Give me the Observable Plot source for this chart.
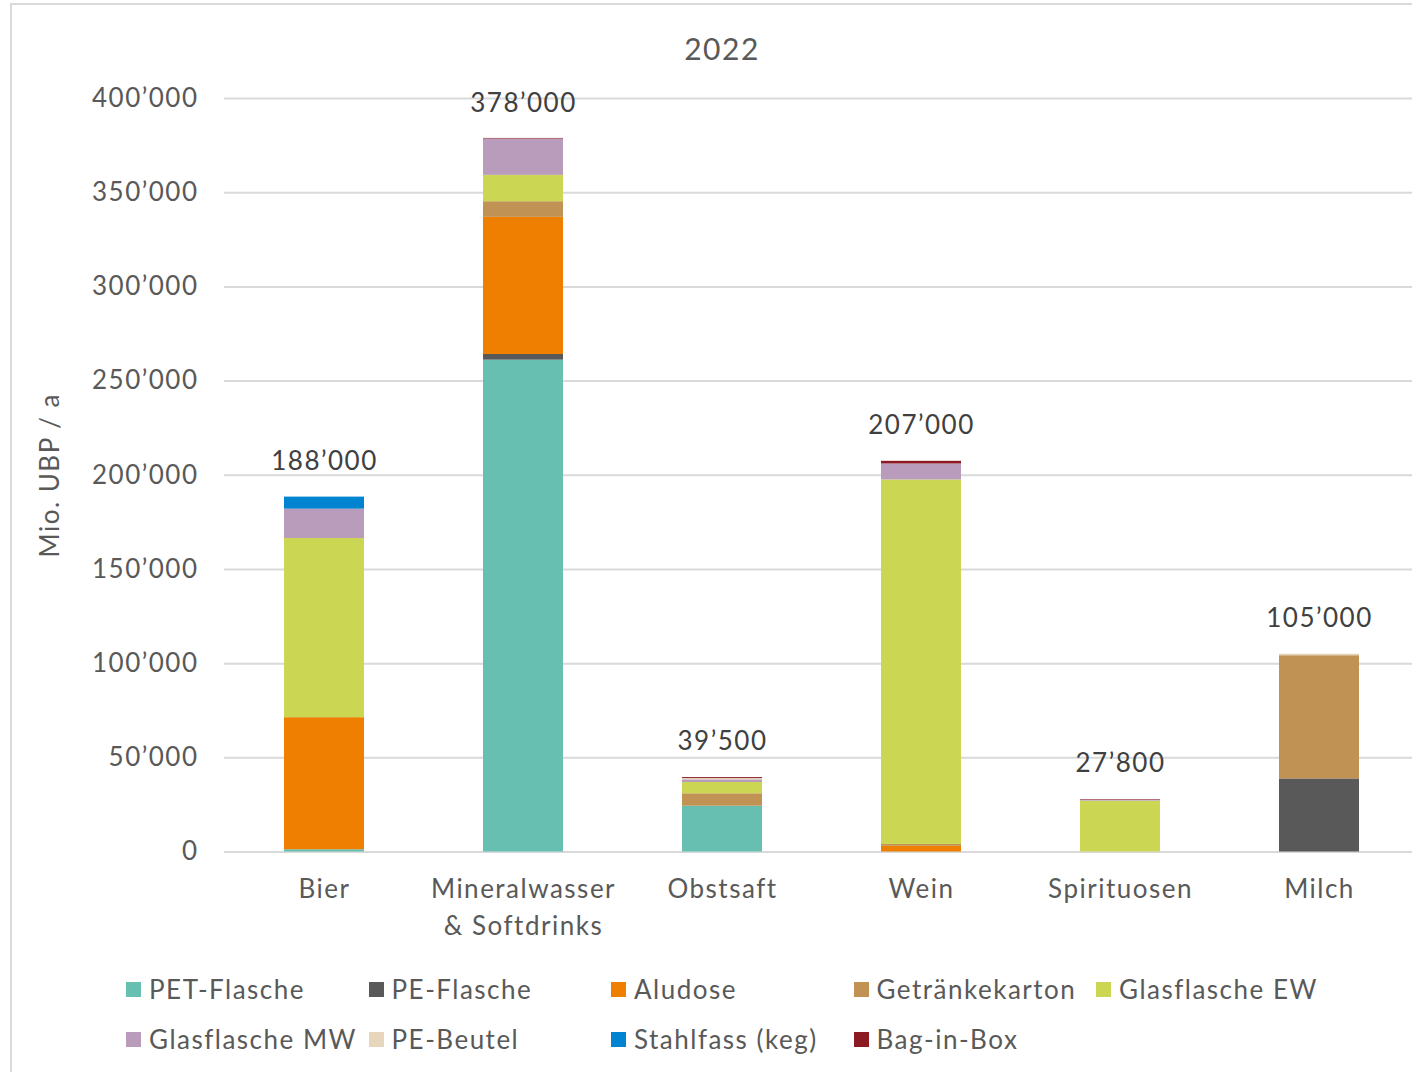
<!DOCTYPE html>
<html>
<head>
<meta charset="utf-8">
<script src="https://cdn.jsdelivr.net/npm/d3@7"></script>
<script src="https://cdn.jsdelivr.net/npm/@observablehq/plot@0.6"></script>
<style>
  html, body { margin: 0; padding: 0; background: #fff; overflow: hidden; }
  #wrap { position: relative; width: 1412px; height: 1072px; overflow: hidden; font-family: Lato, sans-serif; color: #595959; letter-spacing: 1.5px; }
  #frame { position: absolute; left: 10px; top: 3px; width: 1500px; height: 1200px; border: 2px solid #d9d9d9; box-sizing: border-box; }
  #title { position: relative; height: 80px; box-sizing: border-box; padding-left: 32px; padding-top: 33px; width: 1412px; text-align: center; font-size: 30px; line-height: 30px; }
  #chart { position: relative; }
  #legend { position: relative; padding-left: 126px; padding-top: 2px; display: flex; flex-wrap: wrap; width: 1300px; }
  .item { width: 242.5px; height: 50px; line-height: 50px; font-size: 26px; white-space: nowrap; display: flex; align-items: center; }
  .sw { width: 15px; height: 15px; margin-right: 8px; flex: none; }
</style>
</head>
<body>
<div id="wrap">
  <div id="frame"></div>
  <div id="title">2022</div>
  <div id="chart"></div>
  <div id="legend"></div>
</div>
<script>
const categories = ["Bier", "Mineralwasser\n& Softdrinks", "Obstsaft", "Wein", "Spirituosen", "Milch"];
const series = ["PET-Flasche", "PE-Flasche", "Aludose", "Getränkekarton", "Glasflasche EW", "Glasflasche MW", "PE-Beutel", "Stahlfass (keg)", "Bag-in-Box"];
const colors = ["#66bfb1", "#595959", "#ee7f00", "#c09355", "#cbd753", "#b99cbc", "#e8d6bc", "#0084d1", "#8b1a22"];
// values in Mio. UBP / a, one array per series, in category order
const petFlasche     = [1200, 261100, 24300, 0, 0, 0];
const peFlasche      = [0, 3000, 0, 0, 0, 38800];
const aludose        = [70100, 72800, 0, 3000, 0, 0];
const getraenkekarton = [0, 8300, 6600, 1000, 0, 65400];
const glasEW         = [95100, 14000, 6000, 193500, 27000, 0];
const glasMW         = [15600, 19300, 1400, 8500, 500, 0];
const peBeutel       = [0, 0, 700, 0, 0, 800];
const stahlfass      = [6400, 0, 0, 0, 0, 0];
const bagInBox       = [0, 300, 500, 1400, 300, 0];
const totals         = [188000, 378000, 39500, 207000, 27800, 105000];
const yTicks         = [0, 50000, 100000, 150000, 200000, 250000, 300000, 350000, 400000];

const seriesValues = [petFlasche, peFlasche, aludose, getraenkekarton, glasEW, glasMW, peBeutel, stahlfass, bagInBox];
const data = [];
series.forEach((s, i) => categories.forEach((c, j) => data.push({series: s, category: c, value: seriesValues[i][j]})));
const totalData = categories.map((c, j) => ({category: c, total: totals[j]}));

const fmt = d3.formatLocale({decimal: ".", thousands: "’", grouping: [3], currency: ["", ""]}).format(",");

const chart = Plot.plot({
  width: 1420,
  height: 882,
  marginLeft: 224,
  marginRight: 2,
  marginTop: 18,
  marginBottom: 110.5,
  style: {fontFamily: "Lato, sans-serif", fontSize: "26px", color: "#595959", background: "transparent", maxWidth: "none", overflow: "visible", letterSpacing: "1.5px"},
  x: {domain: categories, paddingInner: 0.6, paddingOuter: 0.3, label: null},
  y: {domain: [0, 400000], label: null},
  color: {domain: series, range: colors},
  marks: [
    Plot.ruleY(yTicks, {stroke: "#d9d9d9", strokeWidth: 2}),
    Plot.barY(data, {x: "category", y: "value", fill: "series", order: series}),
    Plot.text(totalData, {x: "category", y: "total", text: d => fmt(d.total), dy: -36, fill: "#404040", fontSize: 26}),
    Plot.axisY({ticks: yTicks, tickSize: 0, tickPadding: 26, tickFormat: fmt, label: "Mio. UBP / a", labelAnchor: "center", labelArrow: "none", labelOffset: 184, fill: "#595959"}),
    Plot.axisX({tickSize: 0, tickPadding: 20, lineHeight: 1.42, fill: "#595959", label: null})
  ]
});
document.getElementById("chart").appendChild(chart);

const legend = document.getElementById("legend");
series.forEach((s, i) => {
  const item = document.createElement("div");
  item.className = "item";
  const sw = document.createElement("span");
  sw.className = "sw";
  sw.style.background = colors[i];
  const t = document.createElement("span");
  t.textContent = s;
  item.appendChild(sw);
  item.appendChild(t);
  legend.appendChild(item);
});
</script>
</body>
</html>
